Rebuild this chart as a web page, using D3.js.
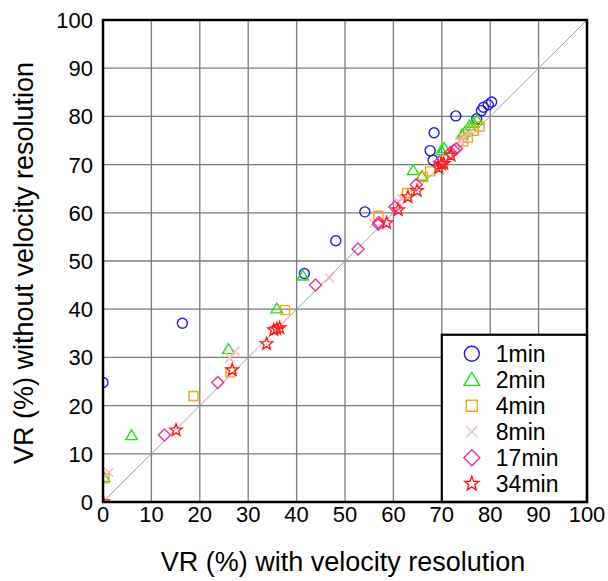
<!DOCTYPE html>
<html>
<head>
<meta charset="utf-8">
<script src="https://cdn.jsdelivr.net/npm/d3@7"></script>
<style>
  body { margin: 0; background: #fff; }
  text { font-family: "Liberation Sans", Arial, sans-serif; fill: #000; }
</style>
</head>
<body>
<svg id="chart" width="608" height="581"></svg>
<script>
// values: [with VR, without VR]
var series_names = ["1min", "2min", "4min", "8min", "17min", "34min"];

var pts_1min = [[0,24.8],[16.4,37.1],[41.6,47.4],[48.1,54.2],[54.1,60.2],[67.6,72.9],[68.2,70.9],
                [68.4,76.6],[72.9,80.1],[77.2,79.5],[78.2,81.2],[78.6,81.9],[79.6,82.4],[80.3,83.0]];
var pts_2min = [[0.2,5.1],[5.9,13.8],[25.9,31.7],[35.9,40.1],[41.3,46.9],[64.1,68.8],[65.9,67.6],
                [69.9,72.9],[70.5,73.4],[74.2,76.2],[74.8,76.8],[75.7,78.1],[76.5,78.6],[77.3,79.2]];
var pts_4min = [[0.3,4.9],[18.7,22.0],[26.3,26.9],[37.6,39.8],[56.9,59.4],[62.8,64.1],[66.1,67.4],
                [67.6,68.6],[74.4,74.8],[75.4,75.6],[76.6,77.0],[77.8,77.9]];
var pts_8min = [[1.2,6.1],[26.2,29.9],[27.3,31.3],[46.8,46.5],[56.0,57.8],[61.0,62.3],[61.8,62.9],
                [73.8,74.8],[74.5,75.6],[75.5,76.5]];
var pts_17min = [[12.7,13.9],[23.7,24.8],[43.9,45.0],[52.7,52.5],[56.9,57.6],[57.0,58.0],[60.3,61.2],
                 [64.7,65.8],[69.5,70.5],[71.8,72.5],[72.5,73.0],[73.0,73.3]];
var pts_34min = [[0,0],[15.1,14.9],[26.7,27.4],[33.8,32.8],[35.3,35.7],[35.9,35.9],[36.5,36.1],
                 [58.6,57.9],[61.0,60.6],[63.0,63.3],[64.9,64.6],[69.4,69.3],[69.9,70.1],[70.4,70.2],[71.9,71.9]];

var tick_vals = [0, 10, 20, 30, 40, 50, 60, 70, 80, 90, 100];
var x_title = "VR (%) with velocity resolution";
var y_title = "VR (%) without velocity resolution";

var all_pts = [pts_1min, pts_2min, pts_4min, pts_8min, pts_17min, pts_34min];
var colors = ["#1c1ce8", "#1fe01f", "#f5a31a", "#ffb3c3", "#e8339c", "#ff1a1a"];

// marker shapes, size = radius-ish
var shapes = [
  { draw: function(c, r){ c.moveTo(r, 0); c.arc(0, 0, r, 0, 2*Math.PI); } },
  { draw: function(c, r){ var h = r*1.0; c.moveTo(0, -h); c.lineTo(r*1.05, h*0.75); c.lineTo(-r*1.05, h*0.75); c.closePath(); } },
  { draw: function(c, r){ c.rect(-r, -r, 2*r, 2*r); } },
  { draw: function(c, r){ c.moveTo(-r,-r); c.lineTo(r,r); c.moveTo(r,-r); c.lineTo(-r,r); } },
  { draw: function(c, r){ c.moveTo(0,-r); c.lineTo(r,0); c.lineTo(0,r); c.lineTo(-r,0); c.closePath(); } },
  { draw: function(c, r){
      var ri = r*0.42;
      for (var i = 0; i < 10; i++) {
        var a = -Math.PI/2 + i*Math.PI/5, rr = (i % 2) ? ri : r;
        if (i == 0) c.moveTo(rr*Math.cos(a), rr*Math.sin(a)); else c.lineTo(rr*Math.cos(a), rr*Math.sin(a));
      }
      c.closePath();
  } }
];
var data_size = [5, 5.5, 4.5, 4.5, 6, 6.5];
var leg_size  = [7.5, 7.5, 5.5, 5.5, 8, 7.5];

var svg = d3.select("#chart");
var margin = {left: 103, top: 20, right: 21, bottom: 79};
var w = 608 - margin.left - margin.right,
    h = 581 - margin.top - margin.bottom;

var x = d3.scaleLinear().domain([0, 100]).range([0, w]);
var y = d3.scaleLinear().domain([0, 100]).range([h, 0]);

var g = svg.append("g").attr("transform", "translate(" + margin.left + "," + margin.top + ")");

// grid
g.append("g").selectAll("line.vx").data(tick_vals.slice(1, -1)).enter().append("line")
    .attr("x1", function(d){ return x(d); }).attr("x2", function(d){ return x(d); })
    .attr("y1", 0).attr("y2", h)
    .attr("stroke", "#7a7a7a").attr("stroke-width", 1.3);
g.append("g").selectAll("line.hy").data(tick_vals.slice(1, -1)).enter().append("line")
    .attr("y1", function(d){ return y(d); }).attr("y2", function(d){ return y(d); })
    .attr("x1", 0).attr("x2", w)
    .attr("stroke", "#7a7a7a").attr("stroke-width", 1.3);

// 1:1 line
g.append("line")
    .attr("x1", x(0)).attr("y1", y(0)).attr("x2", x(100)).attr("y2", y(100))
    .attr("stroke", "#a0a0a0").attr("stroke-width", 1);

svg.append("clipPath").attr("id", "boxclip")
    .append("rect").attr("x", 0).attr("y", 0).attr("width", w).attr("height", h);

var pts_grp = g.append("g").attr("clip-path", "url(#boxclip)");
all_pts.forEach(function(pts, i){
    pts_grp.append("g").selectAll("path").data(pts).enter().append("path")
        .attr("transform", function(d){ return "translate(" + x(d[0]) + "," + y(d[1]) + ")"; })
        .attr("d", d3.symbol().type(shapes[i]).size(data_size[i]))
        .attr("fill", "none")
        .attr("stroke", colors[i])
        .attr("stroke-width", 1.4);
});

// tick labels
g.append("g").selectAll("text").data(tick_vals).enter().append("text")
    .attr("x", function(d){ return x(d); }).attr("y", h + 20)
    .attr("text-anchor", "middle").attr("font-size", 22)
    .text(function(d){ return d; });
g.append("g").selectAll("text").data(tick_vals).enter().append("text")
    .attr("x", -10).attr("y", function(d){ return y(d) + 8; })
    .attr("text-anchor", "end").attr("font-size", 22)
    .text(function(d){ return d; });

// legend
var lg = g.append("g").attr("transform", "translate(" + x(70) + "," + y(34.7) + ")");
var lw = w - x(70), lh = h - y(34.7);
lg.append("rect").attr("width", lw).attr("height", lh)
    .attr("fill", "#fff").attr("stroke", "#000").attr("stroke-width", 2.2);
series_names.forEach(function(nm, i){
    var ry = 19 + i*26;
    lg.append("path")
        .attr("transform", "translate(30," + ry + ")")
        .attr("d", d3.symbol().type(shapes[i]).size(leg_size[i]))
        .attr("fill", "none").attr("stroke", colors[i]).attr("stroke-width", 1.4);
    lg.append("text").attr("x", 54).attr("y", ry + 8)
        .attr("font-size", 23).text(nm);
});

// frame
g.append("rect").attr("width", w).attr("height", h)
    .attr("fill", "none").attr("stroke", "#000").attr("stroke-width", 2.5);

// axis titles
svg.append("text")
    .attr("x", margin.left + w/2 - 2).attr("y", 571)
    .attr("text-anchor", "middle").attr("font-size", 27)
    .text(x_title);
svg.append("text")
    .attr("transform", "translate(33," + (margin.top + h/2 + 2) + ") rotate(-90)")
    .attr("text-anchor", "middle").attr("font-size", 27)
    .text(y_title);
</script>
</body>
</html>
